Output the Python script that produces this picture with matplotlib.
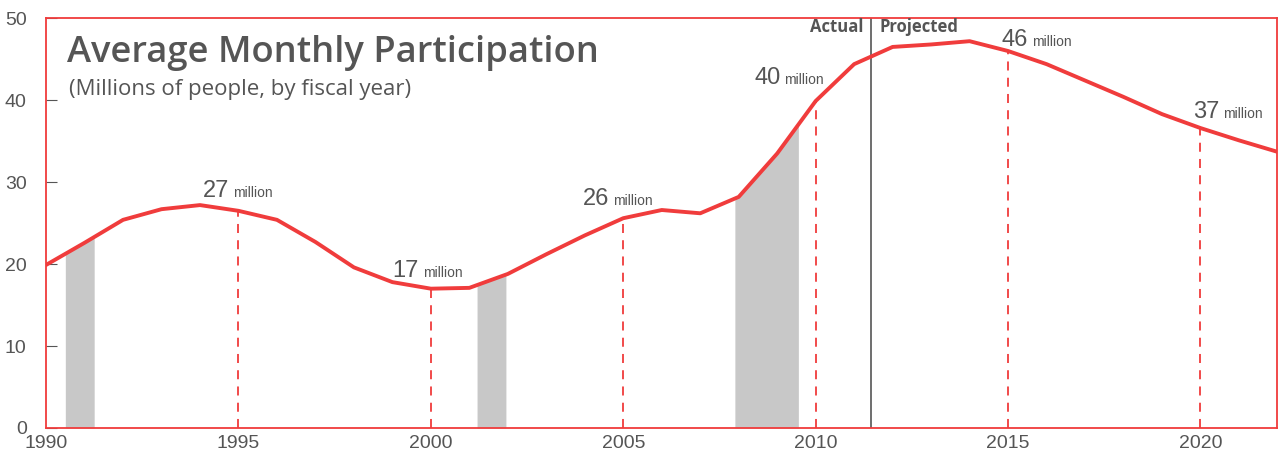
import numpy as np
import matplotlib.pyplot as plt

# average monthly participation, millions, by fiscal year
years = np.arange(1990, 2023)
participants = [19.9, 22.6, 25.4, 26.7, 27.2, 26.5, 25.4, 22.7, 19.6, 17.8,
                17.0, 17.1, 18.8, 21.2, 23.5, 25.6, 26.6, 26.2, 28.2, 33.5,
                39.9, 44.4, 46.5, 46.8, 47.2, 46.0, 44.4, 42.4, 40.4, 38.3,
                36.6, 35.1, 33.7]

# recession periods (shaded)
recessions = [(1990.5, 1991.25), (2001.2, 2001.95), (2007.9, 2009.55)]

# labelled years
label_years = [1995, 2000, 2005, 2010, 2015, 2020]
label_text = ["27", "17", "26", "40", "46", "37"]
# where the label sits: (x offset in years, baseline value)
label_pos = [(-0.23, 28.2), (-0.31, 18.4), (-0.36, 27.2),
             (-0.91, 42.0), (0.52, 46.6), (0.49, 37.8)]

split_year = 2011.45

red = "#f03c3c"
gray = "#555555"
narrow = "Liberation Sans"

fig = plt.figure(figsize=(12.8, 4.63), dpi=100)
ax = fig.add_axes([0.036, 0.0756, 0.962, 0.885])

# shaded recessions under the curve
for x0, x1 in recessions:
    inside = [y for y in years if x0 < y < x1]
    xs = np.array([x0] + inside + [x1], dtype=float)
    ys = np.interp(xs, years, participants)
    ax.fill_between(xs, 0, ys, color="#c8c8c8", lw=0, zorder=1)

# dashed drop lines
for yr in label_years:
    v = participants[list(years).index(yr)]
    ax.plot([yr, yr], [0, v], color=red, lw=1.3, ls=(0, (5, 4)), zorder=2)

ax.axvline(split_year, color=gray, lw=1.2, zorder=2)
ax.plot(years, participants, color=red, lw=2.8, zorder=3,
        solid_joinstyle="round", solid_capstyle="round")

for yr, txt, (dx, by) in zip(label_years, label_text, label_pos):
    ax.text(yr + dx, by, txt, ha="right", va="baseline", fontsize=17,
            color=gray, family=narrow)
    ax.text(yr + dx + 0.1, by, "million", ha="left", va="baseline",
            fontsize=10, color=gray, family=narrow)

ax.text(split_year - 0.2, 48.3, "Actual", ha="right", va="baseline",
        fontsize=12, fontweight="bold", color=gray, family="Open Sans")
ax.text(split_year + 0.2, 48.3, "Projected", ha="left", va="baseline",
        fontsize=12, fontweight="bold", color=gray, family="Open Sans")

ax.text(1990.55, 44.6, "Average Monthly Participation", fontsize=26.2,
        color=gray, family="Open Sans", fontweight="semibold", va="baseline")
ax.text(1990.6, 40.6, "(Millions of people, by fiscal year)", fontsize=16,
        color=gray, family="Open Sans", va="baseline")

ax.set_xlim(1990, 2022)
ax.set_ylim(0, 50)
ax.set_xticks([1990, 1995, 2000, 2005, 2010, 2015, 2020])
ax.set_yticks([0, 10, 20, 30, 40, 50])
ax.tick_params(axis="x", length=0, labelsize=14, labelcolor=gray, pad=5)
ax.tick_params(axis="y", direction="in", length=8, color=gray,
               labelsize=14, labelcolor=gray, pad=14)
for lab in ax.get_xticklabels() + ax.get_yticklabels():
    lab.set_family(narrow)
for s in ax.spines.values():
    s.set_color(red)
    s.set_linewidth(1.3)

fig.savefig("out.png", dpi=100)
